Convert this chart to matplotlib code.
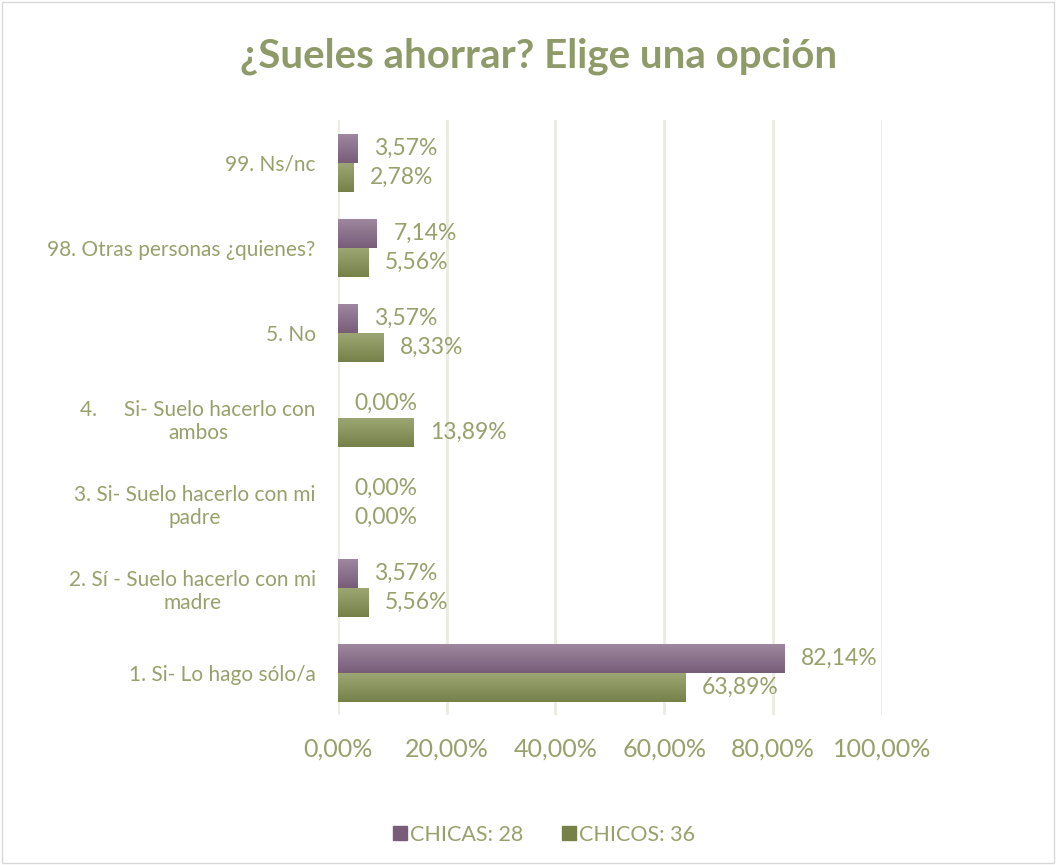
import matplotlib
matplotlib.use("Agg")
import matplotlib.pyplot as plt
import matplotlib.patches as mpatches
import numpy as np
from matplotlib.colors import LinearSegmentedColormap
from matplotlib.ticker import FuncFormatter

TEXT = "#98a06c"
TITLE = "#8e9a68"
GRID = "#ebebe3"
PURPLE_TOP, PURPLE_BOT = "#9e879f", "#785d78"
GREEN_TOP, GREEN_BOT = "#9ca672", "#76814a"

categories = [
    "1. Si- Lo hago sólo/a",
    "2. Sí - Suelo hacerlo con mi\nmadre",
    "3. Si- Suelo hacerlo con mi\npadre",
    "4.     Si- Suelo hacerlo con\nambos",
    "5. No",
    "98. Otras personas ¿quienes?",
    "99. Ns/nc",
]
chicas = [82.14, 3.57, 0.00, 0.00, 3.57, 7.14, 3.57]
chicos = [63.89, 5.56, 0.00, 13.89, 8.33, 5.56, 2.78]
series = [("CHICAS: 28", chicas), ("CHICOS: 36", chicos)]
xticks = [0, 20, 40, 60, 80, 100]

plt.rcParams["font.family"] = ["Lato", "DejaVu Sans"]

fig = plt.figure(figsize=(10.56, 8.65), dpi=100)
ax = fig.add_axes([0.320, 0.173, 0.515, 0.688])

y = np.arange(len(categories))
h = 0.34
grads = [(PURPLE_TOP, PURPLE_BOT), (GREEN_TOP, GREEN_BOT)]
offsets = [h / 2, -h / 2]

for (label, vals), (ctop, cbot), off in zip(series, grads, offsets):
    bars = ax.barh(y + off, vals, height=h, color=cbot, label=label, zorder=2)
    cmap = LinearSegmentedColormap.from_list("g", [cbot, ctop])
    for bar, v in zip(bars, vals):
        if v > 0:
            x0, y0 = bar.get_x(), bar.get_y()
            grad = np.linspace(0, 1, 50).reshape(-1, 1)
            ax.imshow(grad, extent=[x0, x0 + bar.get_width(), y0, y0 + bar.get_height()],
                      origin="lower", aspect="auto", cmap=cmap, zorder=3)
        ax.annotate(f"{v:.2f}%".replace(".", ","), (v, bar.get_y() + h / 2),
                    xytext=(12, 0), textcoords="offset points",
                    va="center", ha="left", fontsize=16.5, color=TEXT, zorder=4)

ax.set_xlim(0, 100)
ax.set_ylim(-0.5, len(categories) - 0.5)
ax.set_xticks(xticks)
ax.xaxis.set_major_formatter(FuncFormatter(lambda v, p: f"{v:.2f}%".replace(".", ",")))
ax.set_yticks(y)
ax.set_yticklabels(categories, multialignment="center")
ax.tick_params(axis="x", length=0, labelsize=18, labelcolor=TEXT, pad=16)
ax.tick_params(axis="y", length=0, labelsize=15, labelcolor=TEXT, pad=16)
ax.grid(axis="x", color=GRID, linewidth=2, zorder=0)
ax.set_axisbelow(True)
for sp in ax.spines.values():
    sp.set_visible(False)

fig.text(0.51, 0.935, "¿Sueles ahorrar? Elige una opción", ha="center", va="center",
         fontsize=29, fontweight="bold", color=TITLE)

handles = [mpatches.Patch(color=PURPLE_BOT, label=series[0][0]),
           mpatches.Patch(color=GREEN_BOT, label=series[1][0])]
leg = fig.legend(handles=handles, loc="center", bbox_to_anchor=(0.515, 0.035), ncol=2,
                 frameon=False, fontsize=15.5, handlelength=0.65, handleheight=0.65,
                 handletextpad=0.15, columnspacing=1.8)
for t in leg.get_texts():
    t.set_color(TEXT)

fig.patches.append(mpatches.Rectangle((0.002, 0.002), 0.996, 0.996, transform=fig.transFigure,
                                      fill=False, edgecolor="#d9d9d9", linewidth=1))

fig.savefig("out.png", dpi=100, facecolor="white")
